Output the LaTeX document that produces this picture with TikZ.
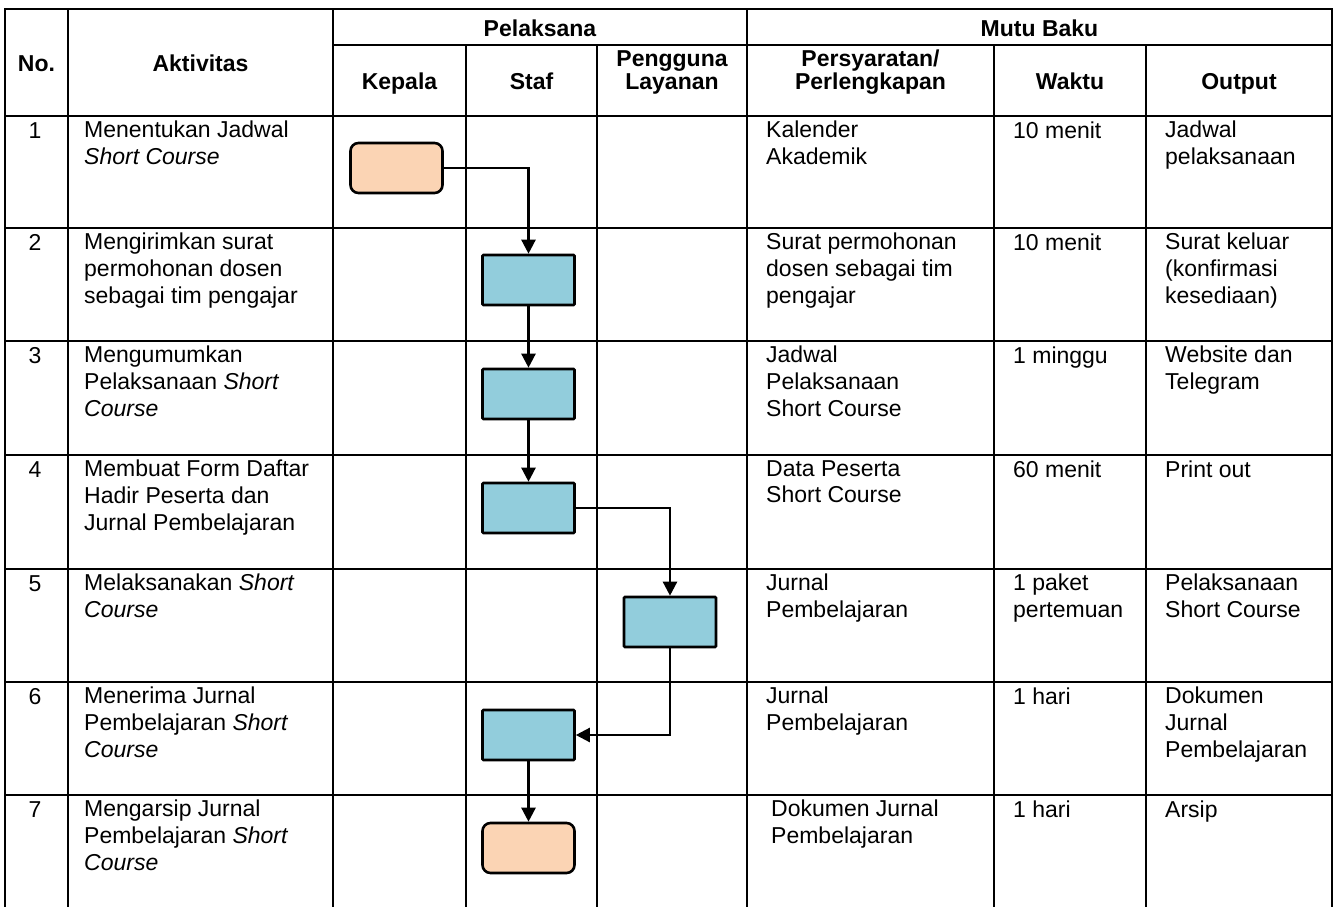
\documentclass[tikz,border=0pt]{standalone}
\usepackage{fontspec}
\setmainfont{Liberation Sans}
\usetikzlibrary{arrows.meta}
\definecolor{procblue}{RGB}{146,205,220}
\definecolor{termpeach}{RGB}{251,212,180}
\tikzset{
  grid/.style={line width=2.5pt, line cap=rect},
  bodytxt/.style={anchor=north west, inner sep=0pt, align=left, font=\fontsize{23}{26.7}\selectfont, execute at begin node={\rule{0pt}{17pt}}},
  numtxt/.style={anchor=base, inner sep=0pt, font=\fontsize{23}{26.7}\selectfont},
  headtxt/.style={anchor=north, inner sep=0pt, align=center, font=\bfseries\fontsize{23}{23}\selectfont, execute at begin node={\rule{0pt}{17pt}}},
  procbox/.style={draw, line width=2.6pt, fill=procblue, minimum width=92pt, minimum height=50pt, inner sep=0pt, rounded corners=1pt},
  termbox/.style={draw, line width=2.6pt, fill=termpeach, minimum width=92pt, minimum height=50pt, inner sep=0pt, rounded corners=8pt},
  arr/.style={line width=2.4pt, -{Triangle[width=14pt,length=14pt]}}
}
\begin{document}
\begin{tikzpicture}[x=1pt,y=-1pt]
\useasboundingbox (0,0) rectangle (1334,907);
% grid lines
\draw[grid] (5,9) -- (1332,9);
\draw[grid] (333,45) -- (1332,45);
\foreach \yy in {116,228,341,455,569,682,795} \draw[grid] (5,\yy) -- (1332,\yy);
\foreach \xx in {5,68,333,747,1332} \draw[grid] (\xx,9) -- (\xx,907);
\foreach \xx in {466,597,994,1146} \draw[grid] (\xx,45) -- (\xx,907);
% header (node top = baseline - 17)
\node[headtxt] (hno) at (36.5,54) {No.};
\node[headtxt] (hakt) at (200.5,54) {Aktivitas};
\node[headtxt] (hpel) at (540,19) {Pelaksana};
\node[headtxt] (hmutu) at (1039.5,19) {Mutu Baku};
\node[headtxt] (hkep) at (399.5,72) {Kepala};
\node[headtxt] (hstaf) at (531.5,72) {Staf};
\node[headtxt] (hpeng) at (672,50) {Pengguna\\Layanan};
\node[headtxt] (hpers) at (870.5,50) {Persyaratan/\\Perlengkapan};
\node[headtxt] (hwak) at (1070,72) {Waktu};
\node[headtxt] (hout) at (1239,72) {Output};
% rows: first baseline = row top + 22 ; node top = row top + 5
% row 1
\node[numtxt] (n1) at (35,138) {1};
\node[bodytxt] (a1) at (84,121) {Menentukan Jadwal\\\textit{Short Course}};
\node[bodytxt] (p1) at (766,121) {Kalender\\Akademik};
\node[bodytxt] (w1) at (1013,121) {10 menit};
\node[bodytxt] (o1) at (1165,121) {Jadwal\\pelaksanaan};
% row 2
\node[numtxt] (n2) at (35,250) {2};
\node[bodytxt] (a2) at (84,233) {Mengirimkan surat\\permohonan dosen\\sebagai tim pengajar};
\node[bodytxt] (p2) at (766,233) {Surat permohonan\\dosen sebagai tim\\pengajar};
\node[bodytxt] (w2) at (1013,233) {10 menit};
\node[bodytxt] (o2) at (1165,233) {Surat keluar\\(konfirmasi\\kesediaan)};
% row 3
\node[numtxt] (n3) at (35,363) {3};
\node[bodytxt] (a3) at (84,346) {Mengumumkan\\Pelaksanaan \textit{Short}\\\textit{Course}};
\node[bodytxt] (p3) at (766,346) {Jadwal\\Pelaksanaan\\Short Course};
\node[bodytxt] (w3) at (1013,346) {1 minggu};
\node[bodytxt] (o3) at (1165,346) {Website dan\\Telegram};
% row 4
\node[numtxt] (n4) at (35,477) {4};
\node[bodytxt] (a4) at (84,460) {Membuat Form Daftar\\Hadir Peserta dan\\Jurnal Pembelajaran};
\node[bodytxt] (p4) at (766,460) {Data Peserta\\Short Course};
\node[bodytxt] (w4) at (1013,460) {60 menit};
\node[bodytxt] (o4) at (1165,460) {Print out};
% row 5
\node[numtxt] (n5) at (35,591) {5};
\node[bodytxt] (a5) at (84,574) {Melaksanakan \textit{Short}\\\textit{Course}};
\node[bodytxt] (p5) at (766,574) {Jurnal\\Pembelajaran};
\node[bodytxt] (w5) at (1013,574) {1 paket\\pertemuan};
\node[bodytxt] (o5) at (1165,574) {Pelaksanaan\\Short Course};
% row 6
\node[numtxt] (n6) at (35,704) {6};
\node[bodytxt] (a6) at (84,687) {Menerima Jurnal\\Pembelajaran \textit{Short}\\\textit{Course}};
\node[bodytxt] (p6) at (766,687) {Jurnal\\Pembelajaran};
\node[bodytxt] (w6) at (1013,687) {1 hari};
\node[bodytxt] (o6) at (1165,687) {Dokumen\\Jurnal\\Pembelajaran};
% row 7
\node[numtxt] (n7) at (35,817) {7};
\node[bodytxt] (a7) at (84,800) {Mengarsip Jurnal\\Pembelajaran \textit{Short}\\\textit{Course}};
\node[bodytxt] (p7) at (771,800) {Dokumen Jurnal\\Pembelajaran};
\node[bodytxt] (w7) at (1013,800) {1 hari};
\node[bodytxt] (o7) at (1165,800) {Arsip};
% flow shapes
\node[termbox] (t1) at (396.5,168) {};
\node[procbox] (b2) at (528.5,280) {};
\node[procbox] (b3) at (528.5,394) {};
\node[procbox] (b4) at (528.5,508) {};
\node[procbox] (b5) at (670,622) {};
\node[procbox] (b6) at (528.5,735) {};
\node[termbox] (t7) at (528.5,848) {};
% connectors
\draw[arr] (t1.east) -| (b2.north);
\draw[arr] (b2.south) -- (b3.north);
\draw[arr] (b3.south) -- (b4.north);
\draw[arr] (b4.east) -| (b5.north);
\draw[arr] (b5.south) |- (b6.east);
\draw[arr] (b6.south) -- (t7.north);
\end{tikzpicture}
\end{document}
